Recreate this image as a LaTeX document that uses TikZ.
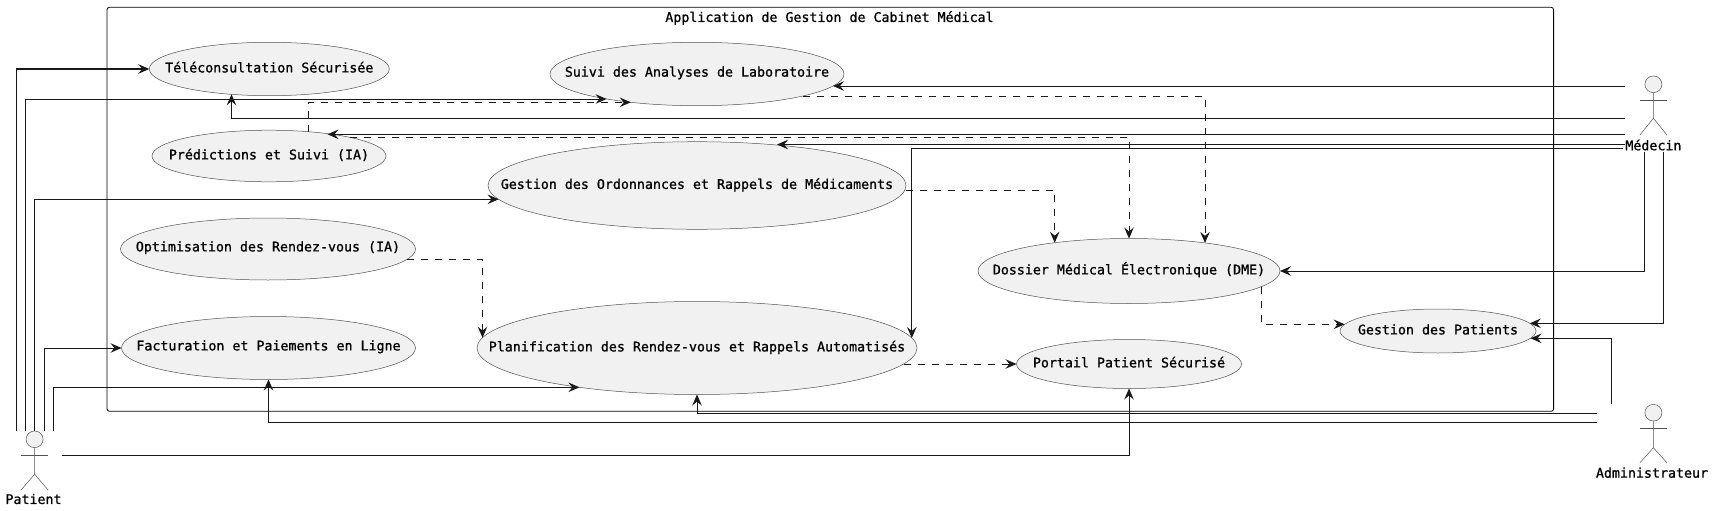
\documentclass[tikz,border=0pt]{standalone}
\usepackage{fontspec}
\setmainfont{DejaVu Sans Mono}[FakeBold=1]
\usetikzlibrary{arrows.meta,calc,shapes.geometric}
\definecolor{ucfill}{HTML}{F1F1F1}
\definecolor{ucline}{HTML}{181818}
\newcommand{\uctext}[2][-3.4pt]{\makebox[0pt]{\smash{\raisebox{#1}{#2}}}}
\tikzset{
  usecase/.style={ellipse,draw=ucline!75,line width=0.5pt,fill=ucfill,inner sep=0pt,outer sep=0pt,font=\fontsize{13.3}{15}\selectfont},
  actorhead/.style={ellipse,draw=ucline!75,line width=0.5pt,fill=ucfill,inner sep=0pt,outer sep=0pt,minimum width=17pt,minimum height=16.7pt},
  actorname/.style={inner sep=0pt,font=\fontsize{13.3}{15}\selectfont},
  stick/.style={ucline!75,line width=0.5pt},
  flow/.style={ucline,line width=1pt,-{Stealth[length=11pt,width=9.5pt,inset=4pt]}},
  depflow/.style={flow,dash pattern=on 7pt off 7pt},
}
\begin{document}
\begin{tikzpicture}[x=1pt,y=-1pt]
\useasboundingbox (0,0) rectangle (1715,511);

% frame
\draw[black,line width=0.8pt,rounded corners=2.5pt] (107,7.3) rectangle (1553.6,411.3);
\node[actorname] (frametitle) at (829.5,18) {Application de Gestion de Cabinet Médical};

% use cases
\node[usecase,minimum width=240pt,minimum height=53.4pt] (tele) at (269.3,69) {\uctext{Téléconsultation Sécurisée}};
\node[usecase,minimum width=294pt,minimum height=63.4pt] (suivi) at (697,74) {\uctext[-2.6pt]{Suivi des Analyses de Laboratoire}};
\node[usecase,minimum width=234pt,minimum height=51.6pt] (pred) at (269,156) {\uctext{Prédictions et Suivi (IA)}};
\node[usecase,minimum width=418pt,minimum height=87.6pt] (ordo) at (697,185.5) {\uctext{Gestion des Ordonnances et Rappels de Médicaments}};
\node[usecase,minimum width=295pt,minimum height=62pt] (optim) at (268,249) {\uctext[-2.4pt]{Optimisation des Rendez-vous (IA)}};
\node[usecase,minimum width=294pt,minimum height=63pt] (factu) at (268.5,348) {\uctext[-2.4pt]{Facturation et Paiements en Ligne}};
\node[usecase,minimum width=440pt,minimum height=93pt] (planif) at (697,348) {\uctext{Planification des Rendez-vous et Rappels Automatisés}};
\node[usecase,minimum width=302pt,minimum height=65pt] (dme) at (1129,271) {\uctext{Dossier Médical Électronique (DME)}};
\node[usecase,minimum width=225pt,minimum height=49pt] (portail) at (1129,364) {\uctext{Portail Patient Sécurisé}};
\node[usecase,minimum width=196pt,minimum height=44pt] (gpatients) at (1438,331) {\uctext{Gestion des Patients}};

% actors
\node[actorhead] (patient) at (34.6,439.3) {};
\draw[stick] (patient.south) -- ++(0,26.6) -- ++(-13.5,15.7) ++(13.5,-15.7) -- ++(13.5,15.7);
\draw[stick] (patient.south) ++(-13.5,7.3) -- ++(27,0);
\node[actorname] (patientname) at (33.5,499) {Patient};

\node[actorhead] (medecin) at (1653.4,84.3) {};
\draw[stick] (medecin.south) -- ++(0,25.6) -- ++(-13.5,16.7) ++(13.5,-16.7) -- ++(13.5,16.7);
\draw[stick] (medecin.south) ++(-13.5,7.3) -- ++(27,0);
\node[actorname] (medecinname) at (1653.4,145) {Médecin};

\node[actorhead] (admin) at (1653.4,412.7) {};
\draw[stick] (admin.south) -- ++(0,26.7) -- ++(-13.5,15) ++(13.5,-15) -- ++(13.5,15);
\draw[stick] (admin.south) ++(-13.5,7.3) -- ++(27,0);
\node[actorname] (adminname) at (1652,472.7) {Administrateur};

% connector ends at the actors
\coordinate (patT) at (16.5,431);
\coordinate (patS) at (25.8,431);
\coordinate (patO) at (34.6,431);
\coordinate (patF) at (44,431);
\coordinate (patL) at (53.2,431);
\coordinate (patB) at (62,455.3);
\coordinate (medW) at (1625,86);
\coordinate (medT) at (1625,118.3);
\coordinate (medP) at (1623,148.3);
\coordinate (medD) at (1644.6,152.3);
\coordinate (medG) at (1663,152.3);
\coordinate (adG) at (1611.4,403.7);
\coordinate (adP) at (1597,413.3);
\coordinate (adF) at (1597,422.3);

% patient
\draw[flow] (patT) |- (tele.west);
\draw[flow] (patS) |- ($(suivi)+(-90.4,25)$);
\draw[flow] (patO) |- ($(ordo)+(-198.4,13.8)$);
\draw[flow] (patF) |- (factu.west);
\draw[flow] (patL) |- ($(planif)+(-117.6,39.3)$);
\draw[flow] (patB) -| (portail.south);

% medecin
\draw[flow] (medW) -- ($(suivi)+(136,12)$);
\draw[flow] (medT) -| ($(tele)+(-37.8,25.3)$);
\draw[flow] (medW |- 0,134.3) -- ($(pred)+(58.5,-21.7)$);
\draw[flow] (medW |- 0,144.5) -- ($(ordo)+(80,-41)$);
\draw[flow] (medP) -| ($(planif)+(214.8,-10)$);
\draw[flow] (medD) |- (dme.east);
\draw[flow] (medG) |- ($(gpatients)+(91.8,-7.7)$);

% administrateur
\draw[flow] (adG) |- ($(gpatients)+(92.5,7.3)$);
\draw[flow] (adP) -| (planif.south);
\draw[flow] (adF) -| (factu.south);

% includes
\draw[depflow] ($(pred)+(39.3,-24.3)$) |- ($(suivi)+(-66.2,28.3)$);
\draw[depflow] ($(suivi)+(105.8,22)$) -| ($(dme)+(76,-28.1)$);
\draw[depflow] ($(pred)+(80.6,-18.7)$) -| (dme.north);
\draw[depflow] ($(ordo)+(208.5,4.8)$) -| ($(dme)+(-74.3,-28.3)$);
\draw[depflow] ($(optim)+(139,10.3)$) -| ($(planif)+(-214.5,-10.3)$);
\draw[depflow] ($(planif)+(206.6,16)$) -- (portail.west);
\draw[depflow] ($(dme)+(132.3,15.7)$) |- ($(gpatients)+(-93.3,-6.7)$);
\end{tikzpicture}
\end{document}
